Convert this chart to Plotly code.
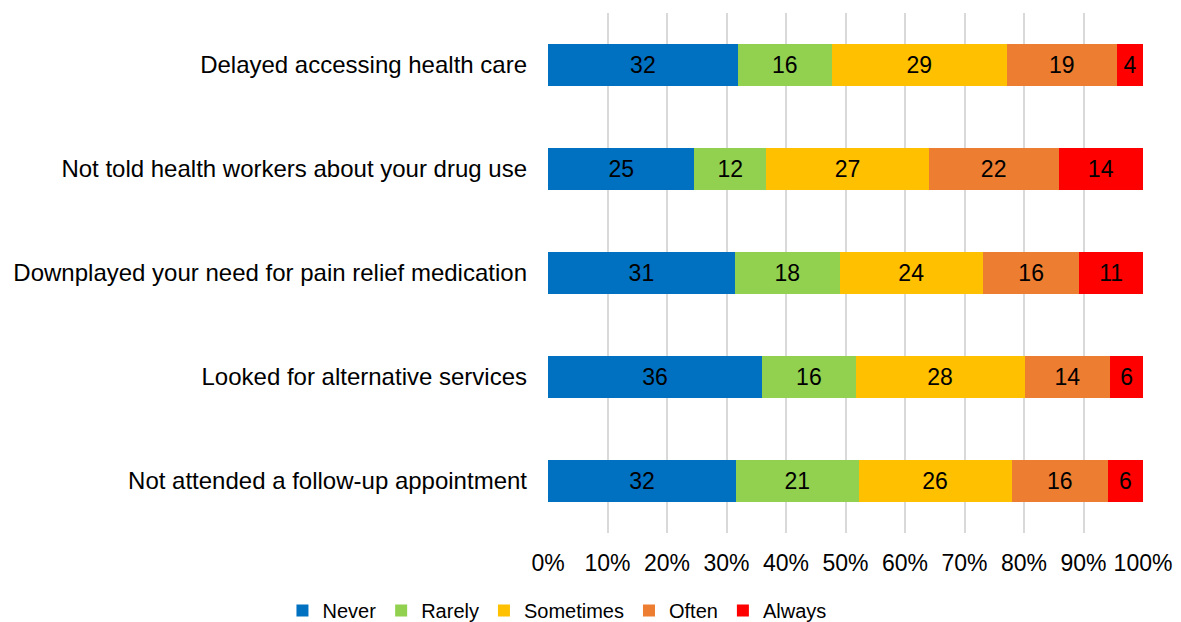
import plotly.graph_objects as go

categories = [
    "Delayed accessing health care",
    "Not told health workers about your drug use",
    "Downplayed your need for pain relief medication",
    "Looked for alternative services",
    "Not attended a follow-up appointment",
]
series_names = ["Never", "Rarely", "Sometimes", "Often", "Always"]
never = [31.9, 24.6, 31.4, 36.0, 31.6]
rarely = [15.8, 12.1, 17.6, 15.7, 20.6]
sometimes = [29.4, 27.3, 24.1, 28.4, 25.7]
often = [18.5, 21.8, 16.2, 14.4, 16.2]
always = [4.4, 14.2, 10.7, 5.5, 5.9]
colors = ["#0070C0", "#92D050", "#FFC000", "#ED7D31", "#FF0000"]
tick_vals = [0, 10, 20, 30, 40, 50, 60, 70, 80, 90, 100]
tick_text = ["0%", "10%", "20%", "30%", "40%", "50%", "60%", "70%", "80%", "90%", "100%"]

FONT = "Liberation Sans, Arial, sans-serif"

fig = go.Figure()
for name, vals, col in zip(series_names, [never, rarely, sometimes, often, always], colors):
    fig.add_trace(go.Bar(
        y=categories, x=vals, name=name, orientation="h",
        marker=dict(color=col, line=dict(width=0)),
        texttemplate="%{x:.0f}", textposition="inside", insidetextanchor="middle",
        textfont=dict(color="black", size=23, family=FONT),
        textangle=0, constraintext="none",
        hoverinfo="x+name",
    ))

fig.update_layout(
    barmode="stack",
    bargap=0.59,
    width=1173, height=622,
    margin=dict(l=536, r=38, t=5, b=97),
    paper_bgcolor="white", plot_bgcolor="white",
    font=dict(family=FONT, size=23, color="black"),
    showlegend=True,
    legend=dict(orientation="h", xref="container", yref="container",
                x=0.468, xanchor="center", y=0.0, yanchor="bottom",
                font=dict(size=20, family=FONT), itemwidth=30, traceorder="normal",
                bgcolor="rgba(0,0,0,0)"),
    xaxis=dict(range=[0, 100], tickvals=tick_vals, ticktext=tick_text,
               showgrid=True, gridcolor="#D9D9D9", gridwidth=1.5,
               zeroline=False, showline=False, ticks="", tickfont=dict(size=23),
               ticklabelstandoff=14, fixedrange=True),
    yaxis=dict(autorange="reversed", showgrid=False, zeroline=False, showline=False,
               ticks="", ticklabelstandoff=20, tickfont=dict(size=24), fixedrange=True),
)

fig.write_html("out.html")
